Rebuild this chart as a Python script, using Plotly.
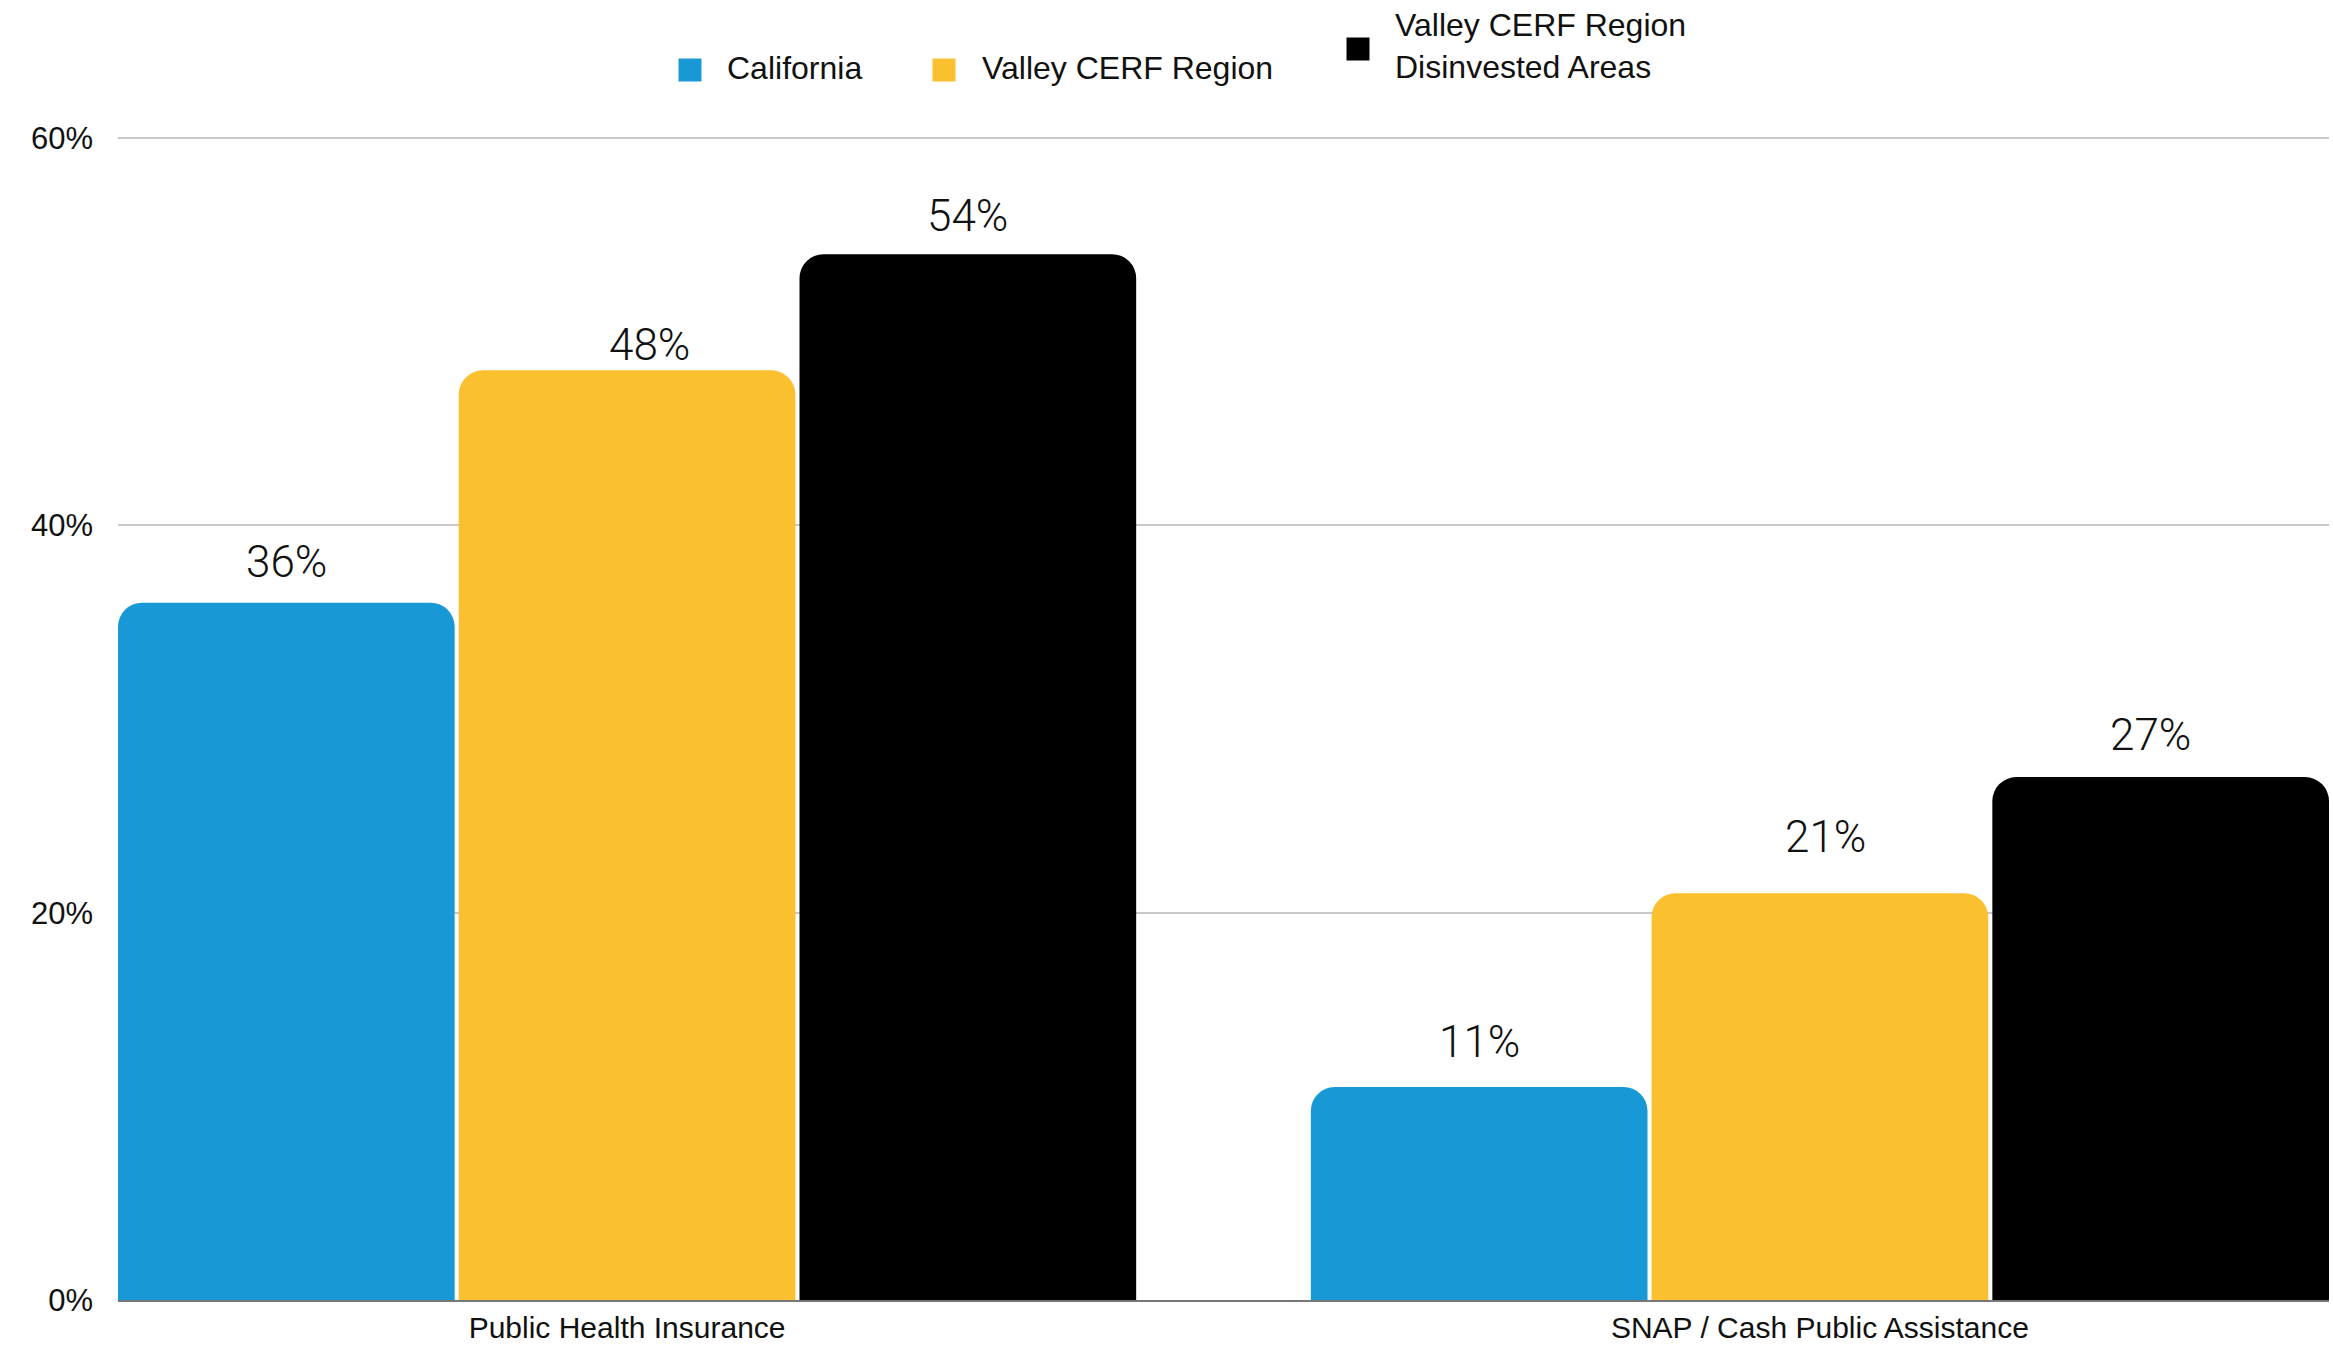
import plotly.graph_objects as go

# Share of residents receiving public assistance, by area
categories = ["Public Health Insurance", "SNAP / Cash Public Assistance"]
series_names = ["California", "Valley CERF Region", "Valley CERF Region<br>Disinvested Areas"]
california = [0.36, 0.11]
valley_cerf = [0.48, 0.21]
disinvested = [0.54, 0.27]
y_ticks = [0, 0.2, 0.4, 0.6]
y_tick_labels = ["0%", "20%", "40%", "60%"]

colors = ["#1899d5", "#fbc02f", "#000000"]
series_values = [california, valley_cerf, disinvested]

# hand-tuned label nudges (px right, px up) per series / category
label_nudges = [
    [(0, 3), (0, 7)],
    [(22, -13), (6, 18)],
    [(0, 0), (-10, 4)],
]

W, H = 2333, 1346
M_L, M_R, M_T, M_B = 118, 4, 136, 46
Y_MAX = 0.601
BARGAP = 0.143
BARGROUPGAP = 0.012
GROUP_W = 1 - BARGAP
# trim the x range so the outer bars sit flush with the plot edges
EDGE_TRIM = GROUP_W / 3 * BARGROUPGAP / 2

AXIS_FONT = dict(family="Liberation Sans, Arial, sans-serif", size=31, color="#111111")
XTICK_FONT = dict(family="Liberation Sans, Arial, sans-serif", size=30, color="#111111")
LEGEND_FONT = dict(family="Liberation Sans, Arial, sans-serif", size=32, color="#111111")
LABEL_FONT = dict(family="Roboto, Lato, sans-serif", size=44, color="#111111", weight=300)


def px_x(px):
    return (px - M_L) / (W - M_L - M_R)


def px_y(py):
    return (H - M_B - py) / (H - M_T - M_B)


fig = go.Figure()

for name, vals, col in zip(series_names, series_values, colors):
    fig.add_trace(go.Bar(
        x=categories, y=vals, name=name,
        marker=dict(color=col, cornerradius=24, line=dict(width=0)),
        showlegend=False,
    ))

# value labels above each bar
n = len(series_values)
for k, vals in enumerate(series_values):
    offset = (k - (n - 1) / 2) * GROUP_W / n
    for i, v in enumerate(vals):
        dx, dy = label_nudges[k][i]
        fig.add_annotation(
            x=i + offset, y=v, xref="x", yref="y",
            text=f"{round(v * 100)}%", showarrow=False,
            yanchor="bottom", xshift=dx, yshift=10 + dy, font=LABEL_FONT,
        )

# legend: square swatch + label, laid out along the top
legend_swatch = [(690, 70), (944, 70), (1358, 49)]
legend_text = [(726, 68), (981, 68), (1394, 46)]
SW = 23
for name, col, (sx, sy), (tx, ty) in zip(series_names, colors, legend_swatch, legend_text):
    fig.add_shape(
        type="rect", xref="paper", yref="paper",
        x0=px_x(sx - SW / 2), x1=px_x(sx + SW / 2),
        y0=px_y(sy + SW / 2), y1=px_y(sy - SW / 2),
        fillcolor=col, line=dict(width=0), layer="above",
    )
    fig.add_annotation(
        x=px_x(tx), y=px_y(ty), xref="paper", yref="paper",
        text=name, showarrow=False, xanchor="left", yanchor="middle",
        align="left", font=LEGEND_FONT, borderpad=0,
    )

fig.update_layout(
    width=W, height=H,
    margin=dict(l=M_L, r=M_R, t=M_T, b=M_B, autoexpand=False),
    paper_bgcolor="white", plot_bgcolor="white",
    barmode="group", bargap=BARGAP, bargroupgap=BARGROUPGAP,
    font=AXIS_FONT, showlegend=False,
    xaxis=dict(
        type="category",
        range=[-GROUP_W / 2 + EDGE_TRIM, 1 + GROUP_W / 2 - EDGE_TRIM],
        showgrid=False, showline=True, linecolor="#777777", linewidth=2,
        ticks="", tickfont=XTICK_FONT, ticklabelstandoff=0,
    ),
    yaxis=dict(
        range=[0, Y_MAX], tickvals=y_ticks, ticktext=y_tick_labels,
        showgrid=True, gridcolor="#c8c8c8", gridwidth=2,
        zeroline=False, showline=False, ticks="",
        tickfont=AXIS_FONT, ticklabelstandoff=24,
    ),
)

fig.write_html("out.html")
